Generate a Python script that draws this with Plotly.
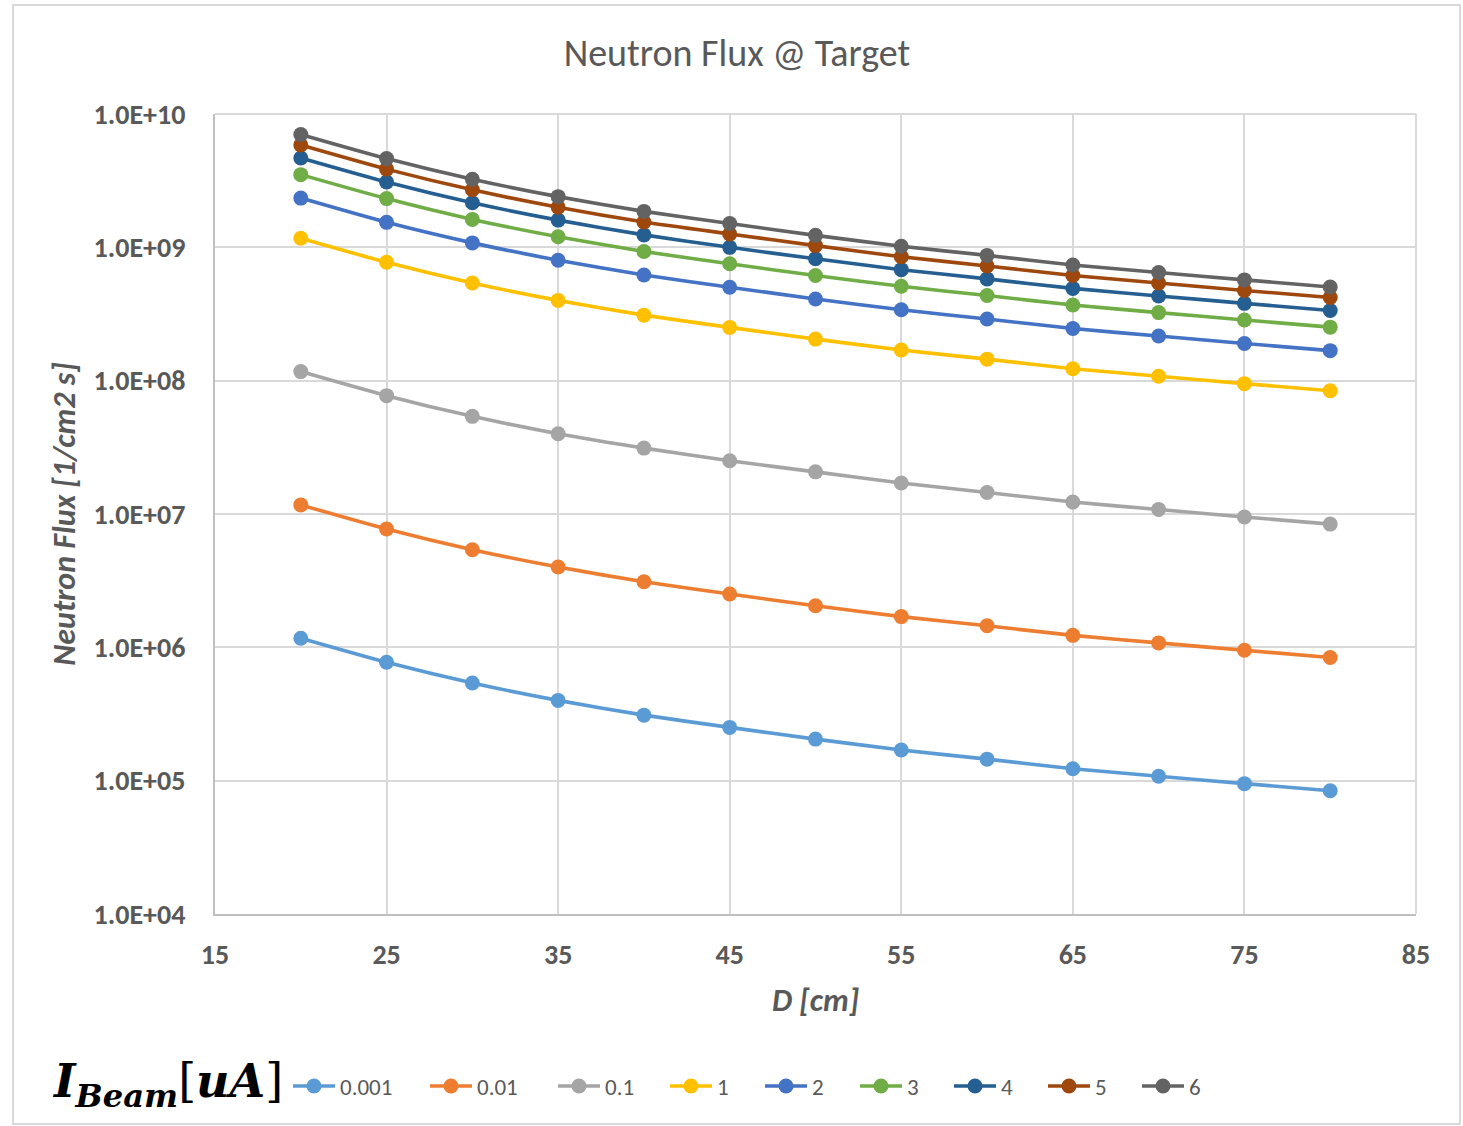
import plotly.graph_objects as go

# ---- data ----
distance_cm = [20, 25, 30, 35, 40, 45, 50, 55, 60, 65, 70, 75, 80]
beam_currents = ["0.001", "0.01", "0.1", "1", "2", "3", "4", "5", "6"]

flux_0_001 = [1.17e6, 7.72e5, 5.40e5, 4.00e5, 3.10e5, 2.51e5, 2.05e5, 1.70e5, 1.45e5, 1.23e5, 1.08e5, 9.5e4, 8.4e4]
flux_0_01 = [1.17e7, 7.72e6, 5.40e6, 4.00e6, 3.10e6, 2.51e6, 2.05e6, 1.70e6, 1.45e6, 1.23e6, 1.08e6, 9.5e5, 8.4e5]
flux_0_1 = [1.17e8, 7.72e7, 5.40e7, 4.00e7, 3.12e7, 2.51e7, 2.07e7, 1.71e7, 1.45e7, 1.23e7, 1.08e7, 9.5e6, 8.4e6]
flux_1 = [1.17e9, 7.72e8, 5.40e8, 4.00e8, 3.10e8, 2.51e8, 2.05e8, 1.70e8, 1.45e8, 1.23e8, 1.08e8, 9.5e7, 8.4e7]
flux_2 = [2.34e9, 1.54e9, 1.08e9, 8.00e8, 6.20e8, 5.02e8, 4.10e8, 3.40e8, 2.90e8, 2.46e8, 2.16e8, 1.90e8, 1.68e8]
flux_3 = [3.51e9, 2.32e9, 1.62e9, 1.20e9, 9.30e8, 7.53e8, 6.15e8, 5.10e8, 4.35e8, 3.69e8, 3.24e8, 2.85e8, 2.52e8]
flux_4 = [4.68e9, 3.09e9, 2.16e9, 1.60e9, 1.24e9, 1.00e9, 8.20e8, 6.80e8, 5.80e8, 4.92e8, 4.32e8, 3.80e8, 3.36e8]
flux_5 = [5.85e9, 3.86e9, 2.70e9, 2.00e9, 1.55e9, 1.26e9, 1.03e9, 8.50e8, 7.25e8, 6.15e8, 5.40e8, 4.75e8, 4.20e8]
flux_6 = [7.02e9, 4.63e9, 3.24e9, 2.40e9, 1.86e9, 1.51e9, 1.23e9, 1.02e9, 8.70e8, 7.38e8, 6.48e8, 5.70e8, 5.04e8]

series_values = [flux_0_001, flux_0_01, flux_0_1, flux_1, flux_2, flux_3, flux_4, flux_5, flux_6]
series_colors = ["#5B9BD5", "#ED7D31", "#A5A5A5", "#FFC000", "#4472C4",
                 "#70AD47", "#255E91", "#9E480E", "#636363"]

x_ticks = [15, 25, 35, 45, 55, 65, 75, 85]
y_tick_vals = [1e4, 1e5, 1e6, 1e7, 1e8, 1e9, 1e10]
y_tick_text = ["1.0E+04", "1.0E+05", "1.0E+06", "1.0E+07", "1.0E+08", "1.0E+09", "1.0E+10"]

# ---- layout constants ----
W, H = 1463, 1126
L, T, PW, PH = 215, 114, 1201, 800          # plot area in pixels
legend_marker_px = [308, 445, 573, 685, 780, 875, 969, 1063, 1157]
legend_y_px = 1086

FONT = "Carlito, Calibri, 'Liberation Sans Narrow', 'Open Sans', sans-serif"
GRAY = "#595959"


def px_x(px):
    return (px - L) / PW


def px_y(py):
    return (T + PH - py) / PH


legend_names = ["legend"] + ["legend%d" % i for i in range(2, 10)]

fig = go.Figure()
for name, vals, col, lg in zip(beam_currents, series_values, series_colors, legend_names):
    fig.add_trace(go.Scatter(
        x=distance_cm, y=vals, name=name, mode="lines+markers",
        line=dict(color=col, width=3.6, shape="spline", smoothing=0.6),
        marker=dict(color=col, size=15),
        legend=lg,
    ))

layout_legends = {}
for lg, mx in zip(legend_names, legend_marker_px):
    layout_legends[lg] = dict(
        orientation="h", x=px_x(mx - 20), xanchor="left",
        y=px_y(legend_y_px), yanchor="middle",
        font=dict(size=23, color=GRAY, family=FONT),
        itemwidth=42, bgcolor="rgba(0,0,0,0)", borderwidth=0,
    )

fig.update_layout(
    width=W, height=H,
    margin=dict(l=L, r=W - L - PW, t=T, b=H - T - PH),
    paper_bgcolor="white", plot_bgcolor="white",
    font=dict(family=FONT, color=GRAY),
    title=dict(text="Neutron Flux @ Target", x=px_x(737), xanchor="center", xref="paper",
               y=1 - 53 / H, yanchor="middle",
               font=dict(size=38, color=GRAY, family=FONT)),
    showlegend=True,
    **layout_legends,
)

fig.update_xaxes(
    range=[15, 85], tickvals=x_ticks, ticktext=[str(v) for v in x_ticks],
    showgrid=True, gridcolor="#D9D9D9", gridwidth=2,
    showline=True, linecolor="#BFBFBF", linewidth=2, mirror=False,
    zeroline=False, ticks="", ticklabelstandoff=14,
    tickfont=dict(size=28, color=GRAY, family=FONT, weight="bold"),
    title=dict(text="<b><i>D [cm]</i></b>", standoff=18,
               font=dict(size=32, color=GRAY, family=FONT)),
)
fig.update_yaxes(
    type="log", range=[4, 10], tickvals=y_tick_vals, ticktext=y_tick_text,
    showgrid=True, gridcolor="#D9D9D9", gridwidth=2,
    showline=True, linecolor="#BFBFBF", linewidth=2,
    zeroline=False, ticks="", ticklabelstandoff=22,
    tickfont=dict(size=28, color=GRAY, family=FONT, weight="bold"),
    title=dict(text="<b><i>Neutron Flux [1/cm2 s]</i></b>", standoff=8,
               font=dict(size=32, color=GRAY, family=FONT)),
)

# top and right border of plot area (gridline style)
fig.add_shape(type="line", xref="paper", yref="paper", x0=0, x1=1, y0=1, y1=1,
              line=dict(color="#D9D9D9", width=2))
fig.add_shape(type="line", xref="paper", yref="paper", x0=1, x1=1, y0=0, y1=1,
              line=dict(color="#D9D9D9", width=2))

# outer chart frame
fig.add_shape(type="rect", xref="paper", yref="paper",
              x0=px_x(13), x1=px_x(1460), y0=px_y(1124), y1=px_y(5),
              line=dict(color="#D9D9D9", width=2), layer="below")

# legend title (math-style)
fig.add_annotation(
    xref="paper", yref="paper", x=px_x(50), xanchor="left",
    y=px_y(1084), yanchor="middle", showarrow=False,
    text="<b><i>I</i></b><sub><b><i>Beam</i></b></sub>[<b><i>uA</i></b>]",
    font=dict(size=46, color="black", family="'DejaVu Serif', 'Liberation Serif', serif"),
)

fig.write_html("out.html", config={"displayModeBar": False},
               post_script="document.body.style.margin='0';document.body.style.overflow='hidden';")
